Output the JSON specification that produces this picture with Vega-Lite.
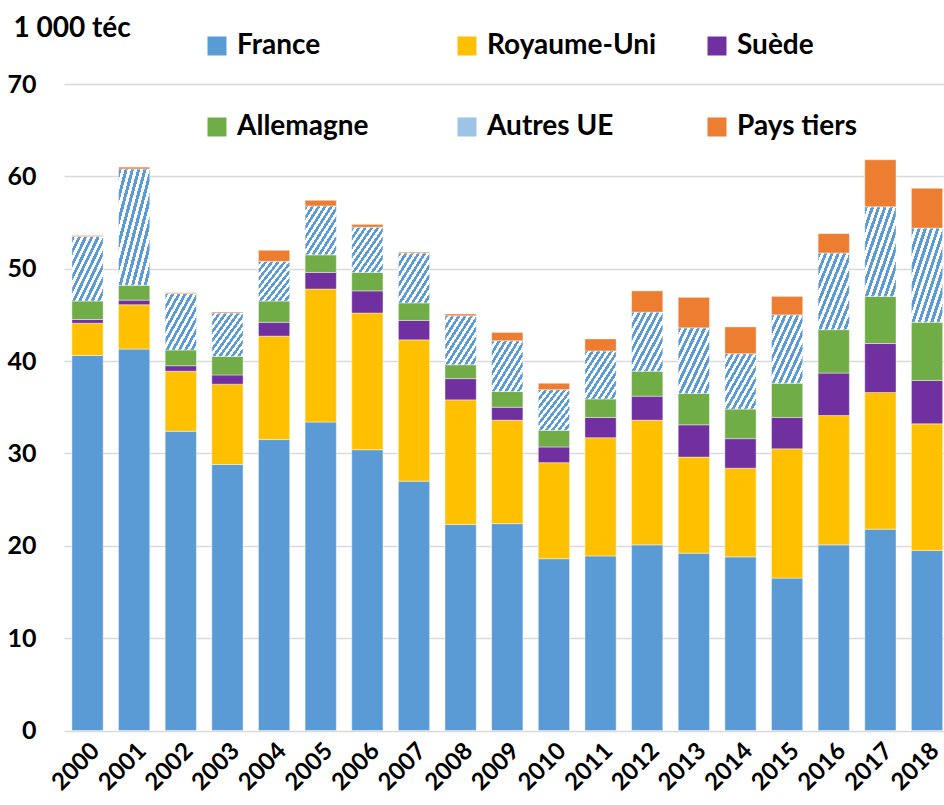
{
  "$schema": "https://vega.github.io/schema/vega-lite/v6.json",
  "autosize": {"type": "none"},
  "width": 880,
  "height": 646.5,
  "padding": {"left": 64, "top": 84, "right": 0, "bottom": 74.5},
  "background": "white",
  "config": {
    "font": "Lato",
    "view": {"stroke": null},
    "axis": {"labelFont": "Lato", "titleFont": "Lato"},
    "legend": {"labelFont": "Lato"}
  },
  "data": {
    "values": [
      {"annee": "2000", "serie": "France", "valeur": 40.6},
      {"annee": "2000", "serie": "Royaume-Uni", "valeur": 3.5},
      {"annee": "2000", "serie": "Suède", "valeur": 0.4},
      {"annee": "2000", "serie": "Allemagne", "valeur": 2.0},
      {"annee": "2000", "serie": "Autres UE", "valeur": 7.0},
      {"annee": "2000", "serie": "Pays tiers", "valeur": 0.1},
      {"annee": "2001", "serie": "France", "valeur": 41.3},
      {"annee": "2001", "serie": "Royaume-Uni", "valeur": 4.8},
      {"annee": "2001", "serie": "Suède", "valeur": 0.5},
      {"annee": "2001", "serie": "Allemagne", "valeur": 1.6},
      {"annee": "2001", "serie": "Autres UE", "valeur": 12.6},
      {"annee": "2001", "serie": "Pays tiers", "valeur": 0.2},
      {"annee": "2002", "serie": "France", "valeur": 32.4},
      {"annee": "2002", "serie": "Royaume-Uni", "valeur": 6.5},
      {"annee": "2002", "serie": "Suède", "valeur": 0.6},
      {"annee": "2002", "serie": "Allemagne", "valeur": 1.7},
      {"annee": "2002", "serie": "Autres UE", "valeur": 6.1},
      {"annee": "2002", "serie": "Pays tiers", "valeur": 0.1},
      {"annee": "2003", "serie": "France", "valeur": 28.8},
      {"annee": "2003", "serie": "Royaume-Uni", "valeur": 8.7},
      {"annee": "2003", "serie": "Suède", "valeur": 1.0},
      {"annee": "2003", "serie": "Allemagne", "valeur": 2.0},
      {"annee": "2003", "serie": "Autres UE", "valeur": 4.7},
      {"annee": "2003", "serie": "Pays tiers", "valeur": 0.1},
      {"annee": "2004", "serie": "France", "valeur": 31.5},
      {"annee": "2004", "serie": "Royaume-Uni", "valeur": 11.2},
      {"annee": "2004", "serie": "Suède", "valeur": 1.5},
      {"annee": "2004", "serie": "Allemagne", "valeur": 2.3},
      {"annee": "2004", "serie": "Autres UE", "valeur": 4.3},
      {"annee": "2004", "serie": "Pays tiers", "valeur": 1.2},
      {"annee": "2005", "serie": "France", "valeur": 33.4},
      {"annee": "2005", "serie": "Royaume-Uni", "valeur": 14.4},
      {"annee": "2005", "serie": "Suède", "valeur": 1.8},
      {"annee": "2005", "serie": "Allemagne", "valeur": 1.9},
      {"annee": "2005", "serie": "Autres UE", "valeur": 5.3},
      {"annee": "2005", "serie": "Pays tiers", "valeur": 0.6},
      {"annee": "2006", "serie": "France", "valeur": 30.4},
      {"annee": "2006", "serie": "Royaume-Uni", "valeur": 14.8},
      {"annee": "2006", "serie": "Suède", "valeur": 2.4},
      {"annee": "2006", "serie": "Allemagne", "valeur": 2.0},
      {"annee": "2006", "serie": "Autres UE", "valeur": 4.9},
      {"annee": "2006", "serie": "Pays tiers", "valeur": 0.3},
      {"annee": "2007", "serie": "France", "valeur": 27.0},
      {"annee": "2007", "serie": "Royaume-Uni", "valeur": 15.3},
      {"annee": "2007", "serie": "Suède", "valeur": 2.1},
      {"annee": "2007", "serie": "Allemagne", "valeur": 1.9},
      {"annee": "2007", "serie": "Autres UE", "valeur": 5.4},
      {"annee": "2007", "serie": "Pays tiers", "valeur": 0.1},
      {"annee": "2008", "serie": "France", "valeur": 22.3},
      {"annee": "2008", "serie": "Royaume-Uni", "valeur": 13.5},
      {"annee": "2008", "serie": "Suède", "valeur": 2.3},
      {"annee": "2008", "serie": "Allemagne", "valeur": 1.5},
      {"annee": "2008", "serie": "Autres UE", "valeur": 5.3},
      {"annee": "2008", "serie": "Pays tiers", "valeur": 0.2},
      {"annee": "2009", "serie": "France", "valeur": 22.4},
      {"annee": "2009", "serie": "Royaume-Uni", "valeur": 11.2},
      {"annee": "2009", "serie": "Suède", "valeur": 1.4},
      {"annee": "2009", "serie": "Allemagne", "valeur": 1.7},
      {"annee": "2009", "serie": "Autres UE", "valeur": 5.5},
      {"annee": "2009", "serie": "Pays tiers", "valeur": 0.9},
      {"annee": "2010", "serie": "France", "valeur": 18.6},
      {"annee": "2010", "serie": "Royaume-Uni", "valeur": 10.4},
      {"annee": "2010", "serie": "Suède", "valeur": 1.7},
      {"annee": "2010", "serie": "Allemagne", "valeur": 1.8},
      {"annee": "2010", "serie": "Autres UE", "valeur": 4.4},
      {"annee": "2010", "serie": "Pays tiers", "valeur": 0.7},
      {"annee": "2011", "serie": "France", "valeur": 18.9},
      {"annee": "2011", "serie": "Royaume-Uni", "valeur": 12.8},
      {"annee": "2011", "serie": "Suède", "valeur": 2.2},
      {"annee": "2011", "serie": "Allemagne", "valeur": 2.0},
      {"annee": "2011", "serie": "Autres UE", "valeur": 5.2},
      {"annee": "2011", "serie": "Pays tiers", "valeur": 1.3},
      {"annee": "2012", "serie": "France", "valeur": 20.1},
      {"annee": "2012", "serie": "Royaume-Uni", "valeur": 13.5},
      {"annee": "2012", "serie": "Suède", "valeur": 2.6},
      {"annee": "2012", "serie": "Allemagne", "valeur": 2.7},
      {"annee": "2012", "serie": "Autres UE", "valeur": 6.4},
      {"annee": "2012", "serie": "Pays tiers", "valeur": 2.3},
      {"annee": "2013", "serie": "France", "valeur": 19.2},
      {"annee": "2013", "serie": "Royaume-Uni", "valeur": 10.4},
      {"annee": "2013", "serie": "Suède", "valeur": 3.5},
      {"annee": "2013", "serie": "Allemagne", "valeur": 3.4},
      {"annee": "2013", "serie": "Autres UE", "valeur": 7.1},
      {"annee": "2013", "serie": "Pays tiers", "valeur": 3.3},
      {"annee": "2014", "serie": "France", "valeur": 18.8},
      {"annee": "2014", "serie": "Royaume-Uni", "valeur": 9.6},
      {"annee": "2014", "serie": "Suède", "valeur": 3.2},
      {"annee": "2014", "serie": "Allemagne", "valeur": 3.2},
      {"annee": "2014", "serie": "Autres UE", "valeur": 6.0},
      {"annee": "2014", "serie": "Pays tiers", "valeur": 2.9},
      {"annee": "2015", "serie": "France", "valeur": 16.5},
      {"annee": "2015", "serie": "Royaume-Uni", "valeur": 14.0},
      {"annee": "2015", "serie": "Suède", "valeur": 3.4},
      {"annee": "2015", "serie": "Allemagne", "valeur": 3.7},
      {"annee": "2015", "serie": "Autres UE", "valeur": 7.4},
      {"annee": "2015", "serie": "Pays tiers", "valeur": 2.0},
      {"annee": "2016", "serie": "France", "valeur": 20.1},
      {"annee": "2016", "serie": "Royaume-Uni", "valeur": 14.0},
      {"annee": "2016", "serie": "Suède", "valeur": 4.6},
      {"annee": "2016", "serie": "Allemagne", "valeur": 4.7},
      {"annee": "2016", "serie": "Autres UE", "valeur": 8.3},
      {"annee": "2016", "serie": "Pays tiers", "valeur": 2.1},
      {"annee": "2017", "serie": "France", "valeur": 21.8},
      {"annee": "2017", "serie": "Royaume-Uni", "valeur": 14.8},
      {"annee": "2017", "serie": "Suède", "valeur": 5.3},
      {"annee": "2017", "serie": "Allemagne", "valeur": 5.1},
      {"annee": "2017", "serie": "Autres UE", "valeur": 9.7},
      {"annee": "2017", "serie": "Pays tiers", "valeur": 5.1},
      {"annee": "2018", "serie": "France", "valeur": 19.5},
      {"annee": "2018", "serie": "Royaume-Uni", "valeur": 13.7},
      {"annee": "2018", "serie": "Suède", "valeur": 4.7},
      {"annee": "2018", "serie": "Allemagne", "valeur": 6.3},
      {"annee": "2018", "serie": "Autres UE", "valeur": 10.2},
      {"annee": "2018", "serie": "Pays tiers", "valeur": 4.3}
    ]
  },
  "transform": [
    {"window": [{"op": "row_number", "as": "rang"}]}
  ],
  "mark": {"type": "bar", "stroke": "white", "strokeWidth": 0.6, "strokeOpacity": 0.7},
  "encoding": {
    "x": {
      "field": "annee",
      "type": "ordinal",
      "scale": {"paddingInner": 0.33, "paddingOuter": 0.099, "align": 0.855},
      "axis": {
        "title": null,
        "labelAngle": -45,
        "labelFontSize": 24,
        "labelFontWeight": "bold",
        "labelColor": "black",
        "labelPadding": 8,
        "ticks": false,
        "domain": false
      }
    },
    "y": {
      "field": "valeur",
      "type": "quantitative",
      "stack": "zero",
      "scale": {"domain": [0, 70], "nice": false},
      "axis": {
        "values": [0, 10, 20, 30, 40, 50, 60, 70],
        "title": "1 000 téc",
        "titleAngle": 0,
        "titleAlign": "left",
        "titleBaseline": "alphabetic",
        "titleX": -51,
        "titleY": -48,
        "titleFontSize": 28,
        "titleFontWeight": "bold",
        "titleColor": "black",
        "labelFontSize": 25,
        "labelFontWeight": "bold",
        "labelColor": "black",
        "labelPadding": 28,
        "ticks": false,
        "domain": false,
        "gridColor": "#d9d9d9",
        "gridWidth": 1.5
      }
    },
    "order": {"field": "rang", "type": "quantitative", "sort": "ascending"},
    "fill": {
      "condition": {
        "test": "datum.serie === 'Autres UE'",
        "value": {"gradient": "linear", "x1": 0, "y1": 0, "x2": 1, "y2": 1, "stops": [
            {"offset": 0.0, "color": "#5B9BD5"}, {"offset": 0.05, "color": "#5B9BD5"}, {"offset": 0.05, "color": "#FFFFFF"}, {"offset": 0.1, "color": "#FFFFFF"},
            {"offset": 0.1, "color": "#5B9BD5"}, {"offset": 0.15, "color": "#5B9BD5"}, {"offset": 0.15, "color": "#FFFFFF"}, {"offset": 0.2, "color": "#FFFFFF"},
            {"offset": 0.2, "color": "#5B9BD5"}, {"offset": 0.25, "color": "#5B9BD5"}, {"offset": 0.25, "color": "#FFFFFF"}, {"offset": 0.3, "color": "#FFFFFF"},
            {"offset": 0.3, "color": "#5B9BD5"}, {"offset": 0.35, "color": "#5B9BD5"}, {"offset": 0.35, "color": "#FFFFFF"}, {"offset": 0.4, "color": "#FFFFFF"},
            {"offset": 0.4, "color": "#5B9BD5"}, {"offset": 0.45, "color": "#5B9BD5"}, {"offset": 0.45, "color": "#FFFFFF"}, {"offset": 0.5, "color": "#FFFFFF"},
            {"offset": 0.5, "color": "#5B9BD5"}, {"offset": 0.55, "color": "#5B9BD5"}, {"offset": 0.55, "color": "#FFFFFF"}, {"offset": 0.6, "color": "#FFFFFF"},
            {"offset": 0.6, "color": "#5B9BD5"}, {"offset": 0.65, "color": "#5B9BD5"}, {"offset": 0.65, "color": "#FFFFFF"}, {"offset": 0.7, "color": "#FFFFFF"},
            {"offset": 0.7, "color": "#5B9BD5"}, {"offset": 0.75, "color": "#5B9BD5"}, {"offset": 0.75, "color": "#FFFFFF"}, {"offset": 0.8, "color": "#FFFFFF"},
            {"offset": 0.8, "color": "#5B9BD5"}, {"offset": 0.85, "color": "#5B9BD5"}, {"offset": 0.85, "color": "#FFFFFF"}, {"offset": 0.9, "color": "#FFFFFF"},
            {"offset": 0.9, "color": "#5B9BD5"}, {"offset": 0.95, "color": "#5B9BD5"}, {"offset": 0.95, "color": "#FFFFFF"}, {"offset": 1.0, "color": "#FFFFFF"}
          ]}
      },
      "field": "serie",
      "type": "nominal",
      "sort": ["France", "Royaume-Uni", "Suède", "Allemagne", "Autres UE", "Pays tiers"],
      "scale": {
        "domain": ["France", "Royaume-Uni", "Suède", "Allemagne", "Autres UE", "Pays tiers"],
        "range": ["#5B9BD5", "#FFC000", "#7030A0", "#70AD47", "#9DC3E6", "#ED7D31"]
      },
      "legend": {
        "title": null,
        "orient": "none",
        "legendX": 139,
        "legendY": -52,
        "direction": "horizontal",
        "columns": 3,
        "gridAlign": "all",
        "columnPadding": 46,
        "rowPadding": 53,
        "symbolType": "square",
        "symbolSize": 361,
        "symbolStrokeWidth": 0,
        "labelFontSize": 28,
        "labelFontWeight": "bold",
        "labelColor": "black",
        "labelOffset": 6,
        "labelLimit": 400,
        "encode": {
          "symbols": {
            "fill": {
              "value": {"expr": "datum.value === 'Autres UE' ? {gradient: 'linear', x1: 0, y1: 0, x2: 1, y2: 1, stops: [{offset: 0, color: '#5B9BD5'}, {offset: 0.09, color: '#5B9BD5'}, {offset: 0.09, color: '#FFFFFF'}, {offset: 0.1667, color: '#FFFFFF'}, {offset: 0.1667, color: '#5B9BD5'}, {offset: 0.2567, color: '#5B9BD5'}, {offset: 0.2567, color: '#FFFFFF'}, {offset: 0.3333, color: '#FFFFFF'}, {offset: 0.3333, color: '#5B9BD5'}, {offset: 0.4233, color: '#5B9BD5'}, {offset: 0.4233, color: '#FFFFFF'}, {offset: 0.5, color: '#FFFFFF'}, {offset: 0.5, color: '#5B9BD5'}, {offset: 0.59, color: '#5B9BD5'}, {offset: 0.59, color: '#FFFFFF'}, {offset: 0.6667, color: '#FFFFFF'}, {offset: 0.6667, color: '#5B9BD5'}, {offset: 0.7567, color: '#5B9BD5'}, {offset: 0.7567, color: '#FFFFFF'}, {offset: 0.8333, color: '#FFFFFF'}, {offset: 0.8333, color: '#5B9BD5'}, {offset: 0.9233, color: '#5B9BD5'}, {offset: 0.9233, color: '#FFFFFF'}, {offset: 1, color: '#FFFFFF'}]} : scale('fill', datum.value)"}
            }
          }
        }
      }
    }
  }
}
